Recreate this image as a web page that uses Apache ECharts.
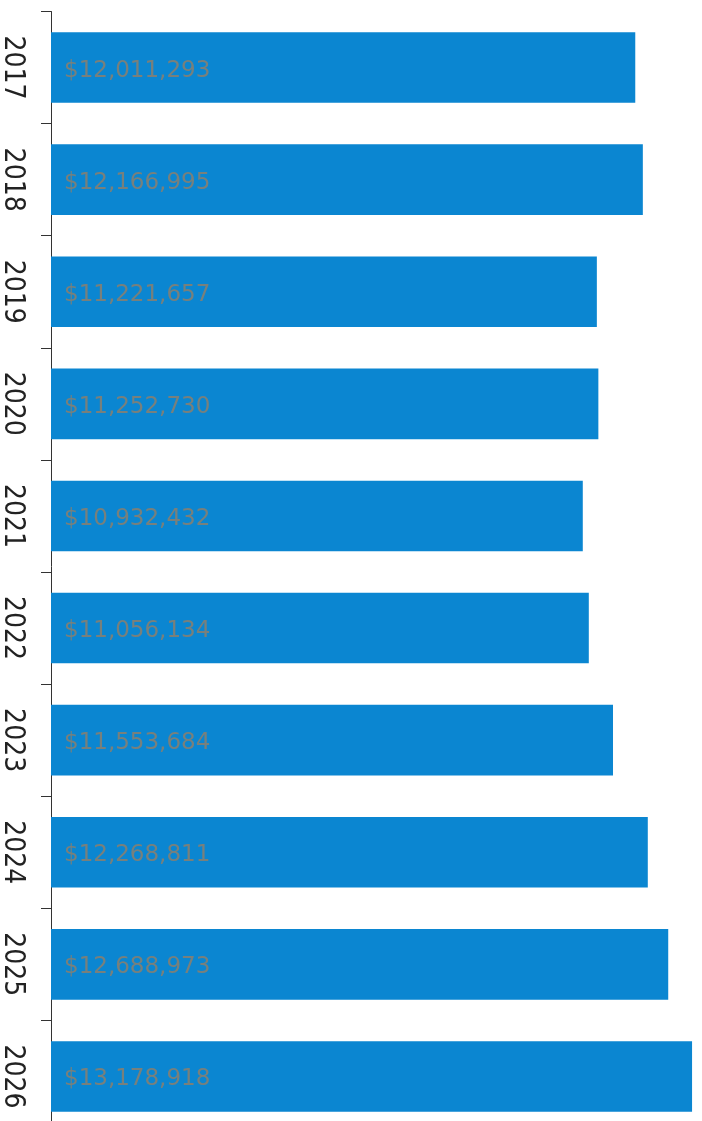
<!DOCTYPE html>
<html>
<head>
<meta charset="utf-8">
<style>
  html, body { margin: 0; padding: 0; background: #ffffff; }
  #chart { width: 702px; height: 1121px; }
</style>
<script src="https://cdn.jsdelivr.net/npm/echarts@6/dist/echarts.min.js"></script>
</head>
<body>
<div id="chart"></div>
<script>
// Annual totals, in dollars
const years = ['2017', '2018', '2019', '2020', '2021', '2022', '2023', '2024', '2025', '2026'];
const amounts = [12011293, 12166995, 11221657, 11252730, 10932432, 11056134, 11553684, 12268811, 12688973, 13178918];

const chart = echarts.init(document.getElementById('chart'));

function dollars(v) {
  return '$' + Number(v).toLocaleString('en-US');
}

chart.setOption({
  backgroundColor: '#ffffff',
  animation: false,
  grid: {
    left: 51, top: 11.5, width: 681, height: 1121,
    containLabel: false,
    outerBoundsMode: 'none'
  },
  xAxis: {
    type: 'value',
    min: 0,
    max: 14000000,
    show: false
  },
  yAxis: {
    type: 'category',
    data: years,
    inverse: true,
    axisLine: { show: true, lineStyle: { color: '#333333', width: 1 } },
    axisTick: { show: true, length: 10, lineStyle: { color: '#333333', width: 1 } },
    axisLabel: {
      rotate: -90,
      margin: 25,
      color: '#222222',
      fontSize: 28,
      fontFamily: '"DejaVu Sans Condensed", "Liberation Sans Narrow", sans-serif'
    }
  },
  series: [{
    type: 'bar',
    data: amounts,
    barCategoryGap: '37%',
    itemStyle: { color: '#0b86d1' },
    label: {
      show: true,
      position: 'insideLeft',
      distance: 13,
      offset: [0, 3],
      color: '#78807c',
      fontSize: 23,
      fontFamily: '"DejaVu Sans", sans-serif',
      formatter: function (p) { return dollars(p.value); }
    }
  }]
});
</script>
</body>
</html>
